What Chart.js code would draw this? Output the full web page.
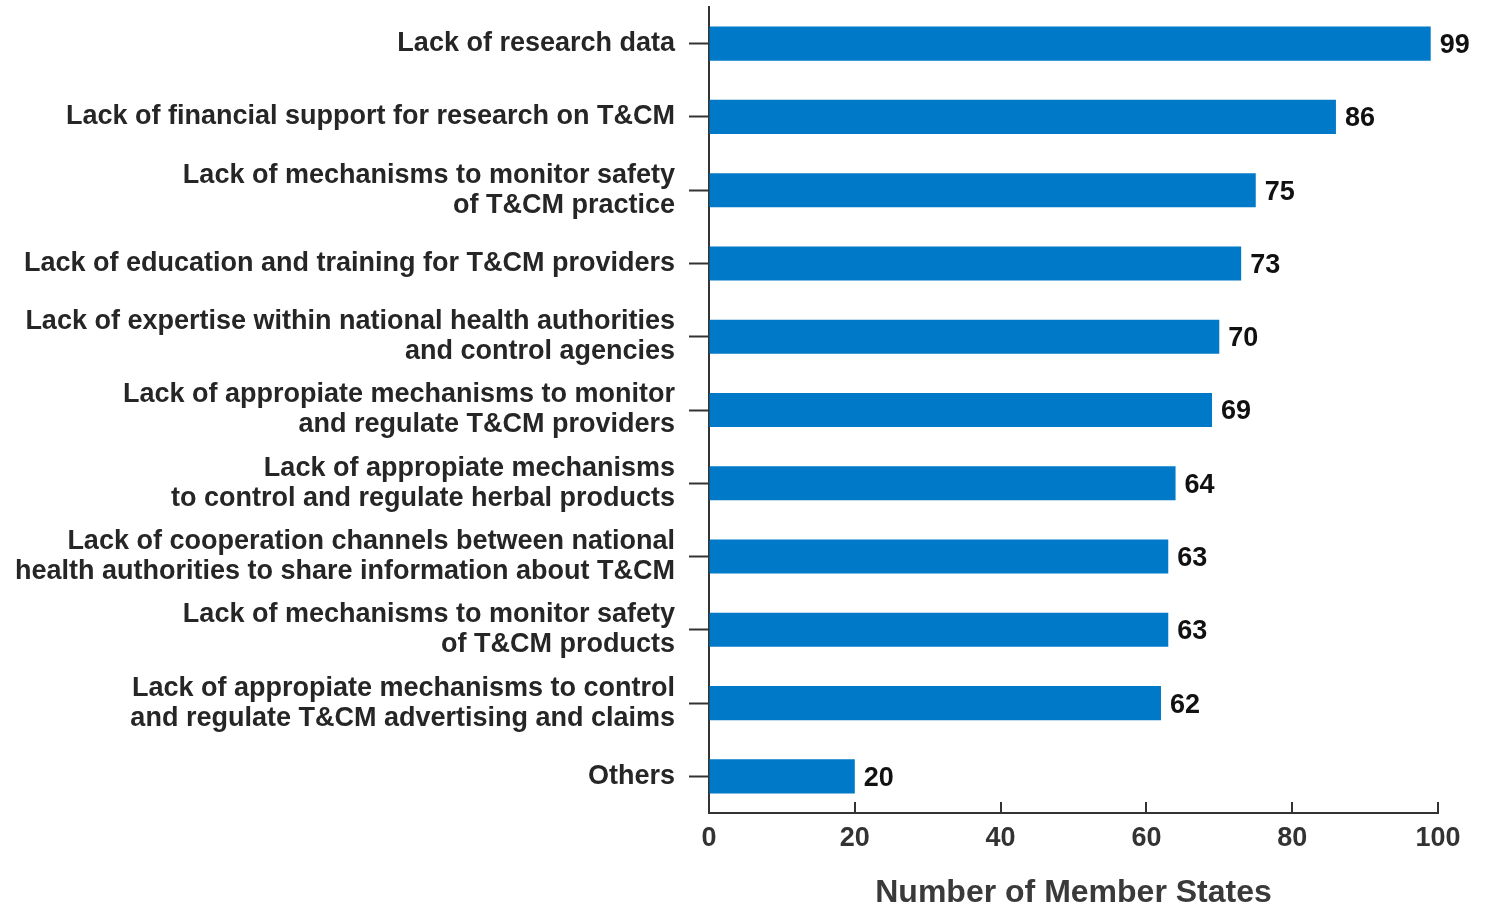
<!DOCTYPE html>
<html>
<head>
<meta charset="utf-8">
<script src="https://cdn.jsdelivr.net/npm/chart.js@4.4.1/dist/chart.umd.min.js"></script>
<style>
  html, body { margin: 0; padding: 0; background: #ffffff; }
  #wrap { width: 1486px; height: 909px; position: relative; }
</style>
</head>
<body>
<div id="wrap"><canvas id="chart"></canvas></div>
<script>
// Challenges reported in T&CM research and regulation
const categories = [
  "Lack of research data",
  "Lack of financial support for research on T&CM",
  ["Lack of mechanisms to monitor safety", "of T&CM practice"],
  "Lack of education and training for T&CM providers",
  ["Lack of expertise within national health authorities", "and control agencies"],
  ["Lack of appropiate mechanisms to monitor", "and regulate T&CM providers"],
  ["Lack of appropiate mechanisms", "to control and regulate herbal products"],
  ["Lack of cooperation channels between national", "health authorities to share information about T&CM"],
  ["Lack of mechanisms to monitor safety", "of T&CM products"],
  ["Lack of appropiate mechanisms to control", "and regulate T&CM advertising and claims"],
  "Others"
];
const memberStates = [99, 86, 75, 73, 70, 69, 64, 63, 63, 62, 20];
const xTickValues = [0, 20, 40, 60, 80, 100];
const axisTitle = "Number of Member States";

const FONT = '"Liberation Sans", Arial, sans-serif';

// Short tick marks pointing up into the plot from the x axis
const innerTicks = {
  id: 'innerTicks',
  afterDraw(chart) {
    const x = chart.scales.x;
    const ctx = chart.ctx;
    ctx.save();
    ctx.strokeStyle = '#333333';
    ctx.lineWidth = 2;
    xTickValues.forEach(v => {
      const px = Math.round(x.getPixelForValue(v));
      ctx.beginPath();
      ctx.moveTo(px, x.top);
      ctx.lineTo(px, x.top - 11);
      ctx.stroke();
    });
    ctx.restore();
  }
};

// Value printed just past the end of each bar
const barValues = {
  id: 'barValues',
  afterDatasetsDraw(chart) {
    const ctx = chart.ctx;
    const meta = chart.getDatasetMeta(0);
    const data = chart.data.datasets[0].data;
    ctx.save();
    ctx.font = 'bold 27px ' + FONT;
    ctx.fillStyle = '#111111';
    ctx.textAlign = 'left';
    ctx.textBaseline = 'middle';
    meta.data.forEach((bar, i) => {
      ctx.fillText(String(data[i]), bar.x + 9, bar.y + 2);
    });
    ctx.restore();
  }
};

new Chart(document.getElementById('chart'), {
  type: 'bar',
  data: {
    labels: categories,
    datasets: [{
      data: memberStates,
      backgroundColor: '#0079c8',
      borderWidth: 0,
      categoryPercentage: 1,
      barPercentage: 0.465
    }]
  },
  options: {
    indexAxis: 'y',
    responsive: true,
    maintainAspectRatio: false,
    animation: false,
    layout: { padding: { top: 7, right: 48, left: 0, bottom: 0 } },
    plugins: {
      legend: { display: false },
      tooltip: { enabled: false }
    },
    scales: {
      y: {
        afterFit(scale) {
          scale.width = 709;
          scale.paddingTop = 0;
          scale.paddingBottom = 0;
        },
        grid: {
          offset: false,
          drawOnChartArea: false,
          drawTicks: true,
          tickLength: 20,
          tickWidth: 2,
          color: '#333333'
        },
        border: { display: true, color: '#333333', width: 2 },
        ticks: {
          padding: 14,
          color: '#262626',
          font: { family: FONT, size: 27, weight: 'bold', lineHeight: 1.11 }
        }
      },
      x: {
        min: 0,
        max: 100,
        afterFit(scale) {
          scale.height = 96;
          scale.paddingLeft = 0;
          scale.paddingRight = 0;
        },
        afterBuildTicks(scale) { scale.ticks = xTickValues.map(v => ({ value: v })); },
        grid: { drawOnChartArea: false, drawTicks: false },
        border: { display: true, color: '#333333', width: 2 },
        ticks: {
          padding: 9,
          color: '#333333',
          font: { family: FONT, size: 27, weight: 'bold', lineHeight: 1.2 }
        },
        title: {
          display: true,
          text: axisTitle,
          color: '#3a3a3a',
          font: { family: FONT, size: 32, weight: 'bold', lineHeight: 1 },
          padding: { top: 0, bottom: 0 }
        }
      }
    }
  },
  plugins: [innerTicks, barValues]
});
</script>
</body>
</html>
